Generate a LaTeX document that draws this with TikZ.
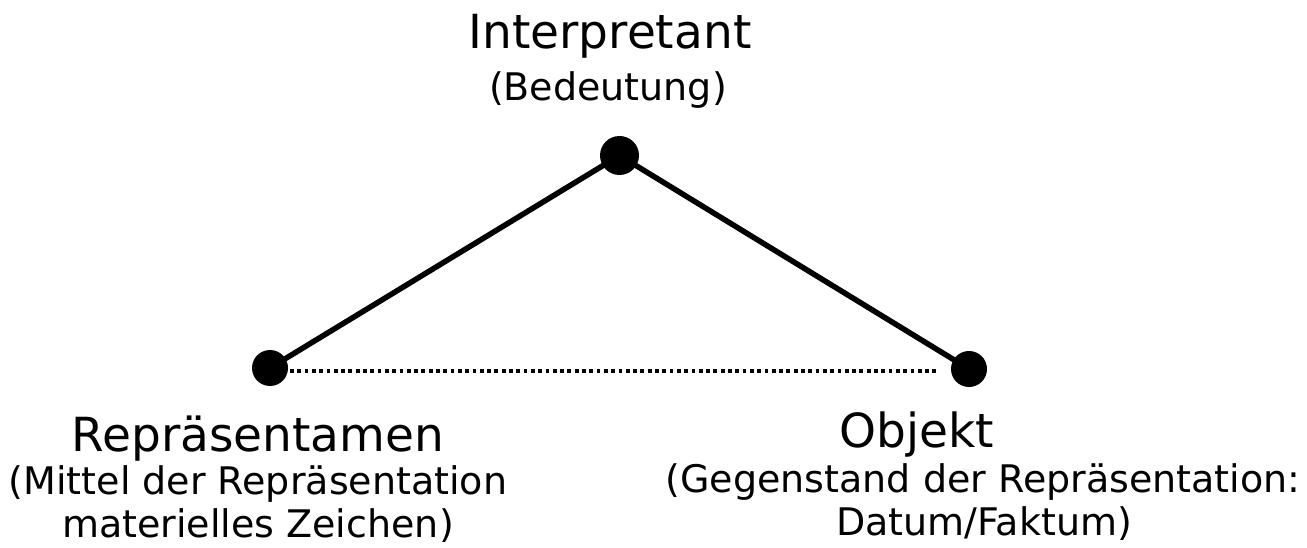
\documentclass[tikz,border=0pt]{standalone}
\usepackage{fontspec}
\setmainfont{DejaVu Sans}
\begin{document}
\begin{tikzpicture}[x=1pt,y=-1pt,
  dot/.style={circle,fill=black,inner sep=0pt,minimum size=#1},
  title/.style={anchor=base,font=\fontsize{47}{56}\selectfont,inner sep=0pt},
  sub/.style={anchor=base,font=\fontsize{38}{42}\selectfont,inner sep=0pt},
  edge/.style={line width=5.5pt},
  dotline/.style={line width=3.8pt,dash pattern=on 3.8pt off 3.5pt}]
\useasboundingbox (0,0) rectangle (1307,548);
\node[dot=39pt] (I) at (619.5,155.5) {};
\node[dot=36pt] (R) at (270,368) {};
\node[dot=36pt] (O) at (969,369) {};
\coordinate (dL) at (290,371);
\coordinate (dR) at (937,371);
\draw[edge] (R.center) -- (I.center) -- (O.center);
\draw[dotline] (dL) -- (dR);
\node[title] (tI) at (610,49) {Interpretant};
\node[sub] (sI) at (608,101) {(Bedeutung)};
\node[title] (tR) at (258,451) {Repräsentamen};
\node[sub] (sR1) at (258,494) {(Mittel der Repräsentation};
\node[sub] (sR2) at (258,537) {materielles Zeichen)};
\node[title] (tO) at (917,447) {Objekt};
\node[sub] (sO1) at (983,492) {(Gegenstand der Repräsentation:};
\node[sub] (sO2) at (984,535) {Datum/Faktum)};
\end{tikzpicture}
\end{document}
